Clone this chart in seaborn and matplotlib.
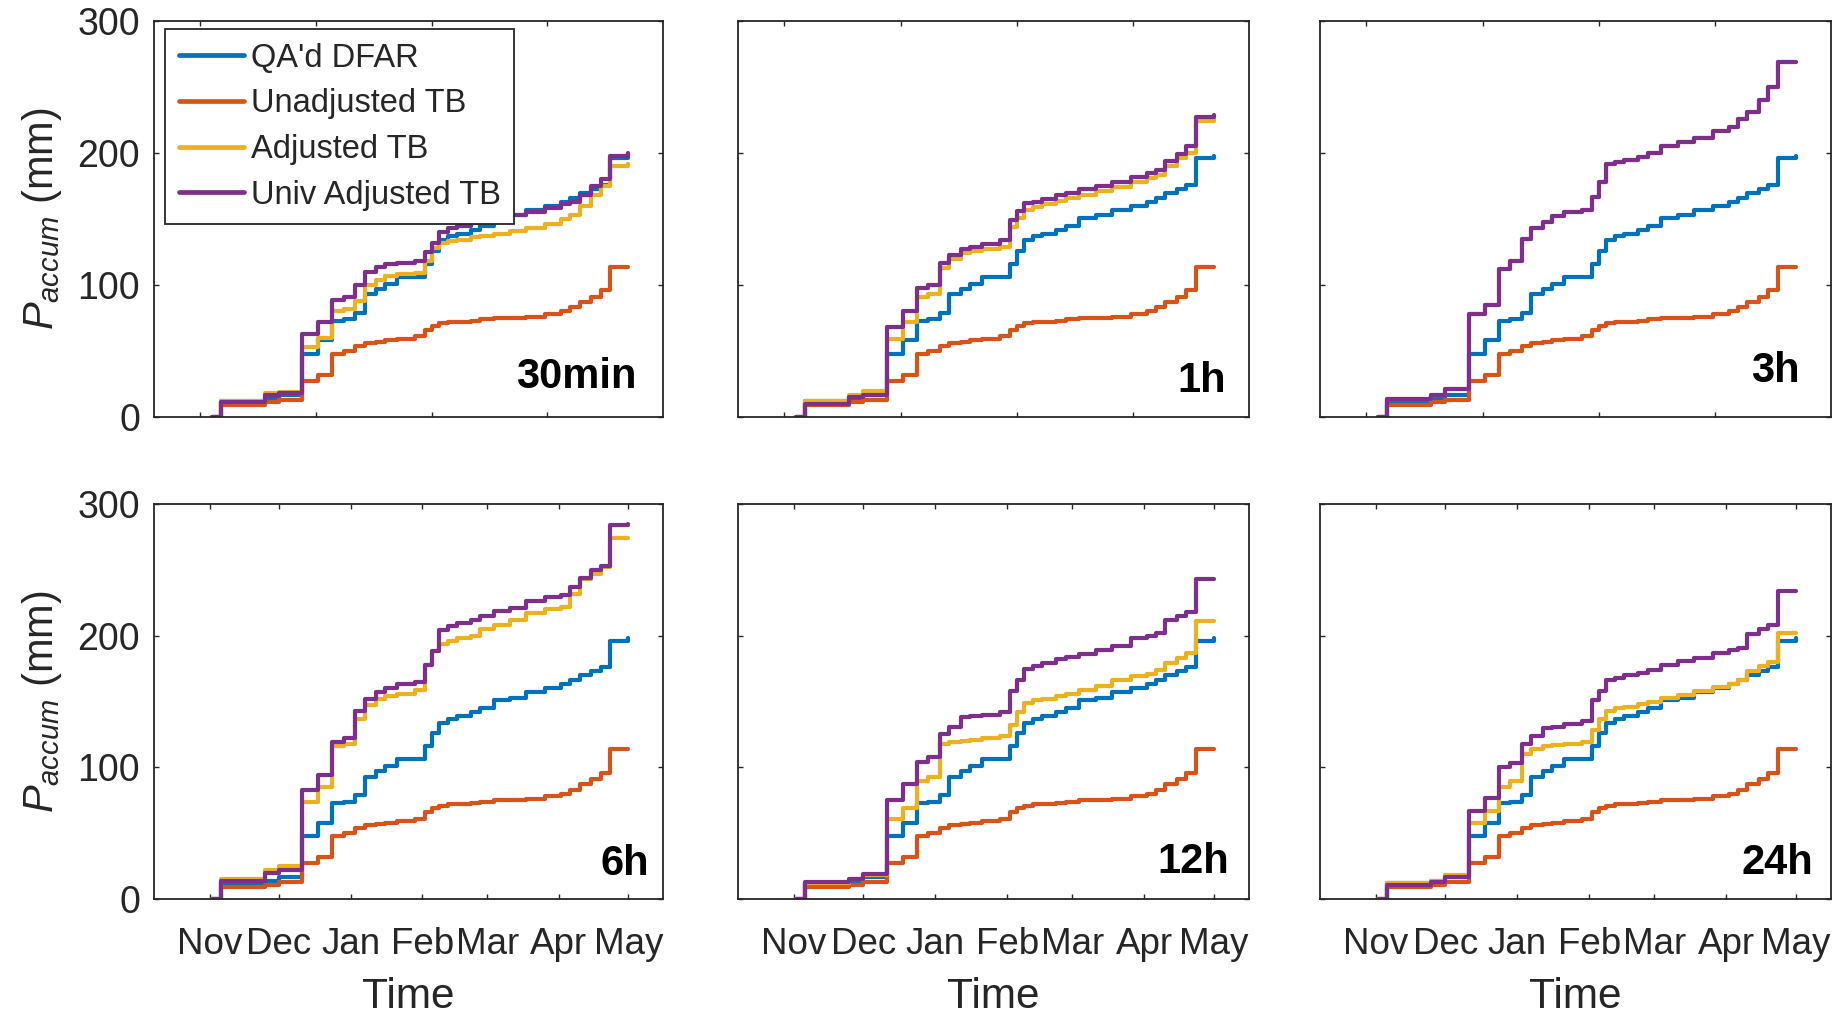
import matplotlib
matplotlib.use("Agg")
import matplotlib.pyplot as plt
import seaborn as sns

# Season day index: days since 1 November (shared by every series)
DAYS = [1, 5, 14, 24, 30, 40, 47, 53, 58, 63, 67, 72, 76, 81, 89, 93, 96, 99,
        103, 107, 113, 117, 123, 130, 137, 145, 152, 156, 160, 165, 169, 173, 181]

# Gauge reference and unadjusted tipping bucket (identical in every panel)
QA_DFAR = [0, 12, 12, 14, 17, 48, 58, 73, 74, 79, 93, 97, 101, 106, 106, 116, 126, 134,
           137, 139, 142, 145, 151, 153, 157, 160, 163, 166, 170, 173, 176, 196, 198]
UNADJ_TB = [0, 9, 9, 11, 13, 27, 32, 48, 50, 54, 56, 57, 58, 59, 61, 66, 69, 71,
            72, 72, 73, 74, 75, 75, 76, 78, 80, 83, 87, 91, 96, 114, 114]

# Adjusted / universally adjusted tipping bucket, one pair per aggregation window
ADJ_30MIN = [0, 12, 12, 18, 19, 53, 60, 80, 82, 88, 100, 104, 107, 108, 109, 118, 128, 132,
             133, 134, 136, 137, 139, 141, 143, 146, 150, 153, 160, 168, 175, 190, 192]
UNIV_30MIN = [0, 11, 11, 17, 18, 63, 72, 89, 91, 100, 110, 114, 116, 117, 118, 125, 132, 140,
              143, 145, 147, 149, 151, 153, 155, 158, 161, 163, 168, 175, 180, 198, 200]

ADJ_1H = [0, 12, 12, 17, 20, 59, 72, 91, 93, 113, 120, 124, 126, 127, 129, 144, 151, 157,
          159, 161, 164, 166, 168, 171, 174, 178, 181, 183, 190, 196, 200, 224, 226]
UNIV_1H = [0, 10, 10, 15, 17, 68, 80, 98, 100, 117, 123, 127, 129, 131, 134, 149, 156, 162,
           163, 165, 168, 170, 173, 175, 178, 182, 185, 187, 194, 199, 205, 227, 229]

ADJ_3H = [0, 14, 14, 17, 21, 78, 85, 112, 118, 135, 143, 148, 152, 155, 157, 167, 178, 192,
          193, 195, 197, 200, 205, 208, 211, 217, 220, 226, 231, 240, 250, 269, 269]
UNIV_3H = [0, 14, 14, 17, 21, 78, 85, 112, 118, 135, 143, 148, 152, 155, 157, 167, 178, 192,
           193, 195, 197, 200, 205, 208, 211, 217, 220, 226, 231, 240, 250, 269, 269]

ADJ_6H = [0, 15, 15, 22, 25, 74, 85, 116, 118, 137, 147, 152, 154, 156, 159, 178, 188, 194,
          196, 198, 200, 205, 208, 212, 217, 220, 222, 232, 243, 247, 252, 274, 274]
UNIV_6H = [0, 14, 14, 20, 22, 83, 94, 119, 122, 143, 152, 157, 160, 163, 165, 178, 188, 204,
           207, 210, 212, 215, 219, 221, 226, 229, 231, 237, 244, 250, 253, 284, 285]

ADJ_12H = [0, 12, 12, 15, 18, 61, 69, 90, 93, 118, 119, 120, 121, 122, 124, 132, 142, 149,
           151, 152, 154, 156, 159, 162, 166, 169, 171, 174, 179, 183, 187, 211, 211]
UNIV_12H = [0, 13, 13, 15, 19, 75, 87, 104, 108, 125, 131, 138, 139, 140, 142, 158, 166, 175,
            177, 179, 182, 184, 186, 189, 192, 198, 200, 202, 212, 215, 218, 243, 243]

ADJ_24H = [0, 12, 12, 14, 18, 58, 67, 85, 90, 110, 114, 116, 117, 118, 119, 128, 137, 143,
           145, 146, 148, 150, 153, 155, 158, 161, 163, 166, 173, 177, 180, 202, 202]
UNIV_24H = [0, 11, 11, 13, 17, 67, 77, 100, 103, 118, 124, 130, 131, 133, 135, 151, 158, 166,
            168, 170, 172, 174, 178, 181, 183, 187, 189, 191, 201, 205, 208, 234, 234]

PANEL_NAMES = ["30min", "1h", "3h", "6h", "12h", "24h"]
SERIES_NAMES = ["QA'd DFAR", "Unadjusted TB", "Adjusted TB", "Univ Adjusted TB"]
SERIES_COLORS = ["#0072BD", "#D95319", "#EDB120", "#7E2F8E"]

MONTH_DAYS = [0, 30, 61, 92, 120, 151, 181]
MONTH_LABELS = ["Nov", "Dec", "Jan", "Feb", "Mar", "Apr", "May"]
TOP_ROW_TICKS = [-4, 46, 96, 146]
Y_TICKS = [0, 100, 200, 300]

panel_series = [
    (ADJ_30MIN, UNIV_30MIN), (ADJ_1H, UNIV_1H), (ADJ_3H, UNIV_3H),
    (ADJ_6H, UNIV_6H), (ADJ_12H, UNIV_12H), (ADJ_24H, UNIV_24H),
]

sns.set_theme(style="white")
INK = "#262626"
plt.rcParams.update({
    "font.family": ["Liberation Sans", "DejaVu Sans"],
    "mathtext.fontset": "custom",
    "mathtext.rm": "Liberation Sans",
    "mathtext.it": "Liberation Sans:italic",
    "axes.edgecolor": INK,
    "axes.linewidth": 1.3,
    "xtick.color": INK,
    "ytick.color": INK,
    "axes.labelcolor": INK,
})

W, H = 1843, 1016
fig = plt.figure(figsize=(W / 100, H / 100), dpi=100, facecolor="white")

col_px = [(154, 509), (738, 511), (1320, 511)]
row_px = [(21, 396), (504, 395)]
# label placement: (pixels in from right edge, baseline pixels above bottom)
label_px = [(26, 29), (23, 25), (31, 35), (14, 24), (20, 26), (18, 25)]

for i, (name, (adj, univ)) in enumerate(zip(PANEL_NAMES, panel_series)):
    r, c = divmod(i, 3)
    left, width = col_px[c]
    top, height = row_px[r]
    ax = fig.add_axes([left / W, 1 - (top + height) / H, width / W, height / H])

    for vals, label, color in zip([QA_DFAR, UNADJ_TB, adj, univ], SERIES_NAMES, SERIES_COLORS):
        sns.lineplot(x=DAYS, y=vals, ax=ax, color=color, lw=3.0, estimator=None,
                     drawstyle="steps-post", legend=False, label=label)

    ax.set_xlim(-24, 196)
    ax.set_ylim(0, 300)
    ax.set_yticks(Y_TICKS)
    ax.set_xlabel("")
    ax.set_ylabel("")
    for s in ax.spines.values():
        s.set_visible(True)
        s.set_color(INK)
        s.set_linewidth(1.3)

    ax.tick_params(axis="both", direction="in", length=3.8, width=1.0,
                   top=True, right=True, bottom=True, left=True, labelsize=27)
    ax.tick_params(axis="x", labelsize=26.5)
    ax.tick_params(axis="y", pad=10)
    ax.tick_params(axis="x", pad=20)

    if r == 0:
        ax.set_xticks(TOP_ROW_TICKS)
        ax.set_xticklabels([])
    else:
        ax.set_xticks(MONTH_DAYS)
        ax.set_xticklabels(MONTH_LABELS)
        ax.set_xlabel("Time", fontsize=30.5, color=INK, va="baseline")
        ax.xaxis.set_label_coords(0.5, (top + height - (H - 8)) / height)

    if c == 0:
        ax.set_ylabel(r"$P_{accum}$ (mm)", fontsize=30, color=INK)
        ax.yaxis.set_label_coords(-0.176, 0.5)
    else:
        ax.set_yticklabels([])

    dx, dy = label_px[i]
    ax.text(1 - dx / width, dy / height, name, transform=ax.transAxes,
            ha="right", va="baseline", fontsize=30, fontweight="bold", color="black")

    if i == 0:
        leg = ax.legend(loc="upper left", bbox_to_anchor=(0.0216, 0.9798),
                        borderaxespad=0, fontsize=23.5, handlelength=2.0,
                        handletextpad=0.2, labelspacing=0.45, borderpad=0.42,
                        frameon=True, fancybox=False, framealpha=1)
        leg.get_frame().set_edgecolor(INK)
        leg.get_frame().set_linewidth(1.3)
        for t in leg.get_texts():
            t.set_color(INK)
        for h in leg.get_lines():
            h.set_linewidth(3.4)

fig.savefig("out.png", dpi=100, facecolor="white")
